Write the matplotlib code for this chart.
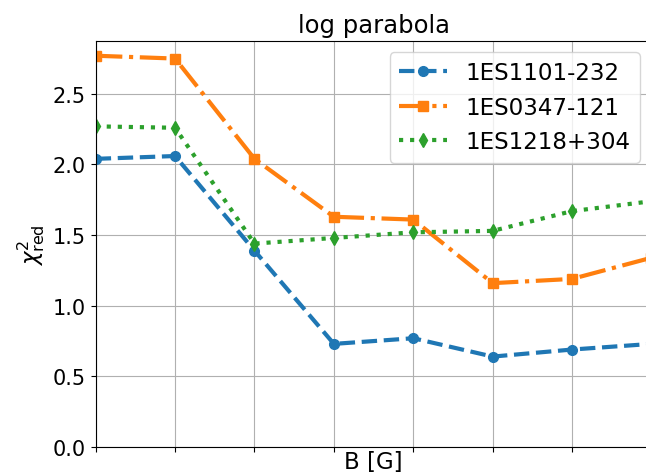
import numpy as np
import matplotlib
matplotlib.use("Agg")
import matplotlib.pyplot as plt

# reduced chi^2 of the log-parabola fit for each magnetic field value
b_index = np.arange(8)
chi2_1101 = [2.04, 2.06, 1.39, 0.73, 0.77, 0.64, 0.69, 0.73]
chi2_0347 = [2.77, 2.75, 2.04, 1.63, 1.61, 1.16, 1.19, 1.34]
chi2_1218 = [2.27, 2.26, 1.44, 1.48, 1.52, 1.53, 1.67, 1.74]

sources = ["1ES1101-232", "1ES0347-121", "1ES1218+304"]
styles = [("--", "o"), ("-.", "s"), (":", "d")]
colors = ["tab:blue", "tab:orange", "tab:green"]

fig = plt.figure(figsize=(6.46, 4.77), dpi=100)
ax = fig.add_axes([0.1481, 0.0608, 0.8604, 0.8518])

for y, name, (ls, mk), c in zip([chi2_1101, chi2_0347, chi2_1218], sources, styles, colors):
    ax.plot(b_index, y, linestyle=ls, marker=mk, color=c, linewidth=3,
            markersize=7, label=name)

ax.set_xlim(0, 7)
ax.set_ylim(bottom=0)
ax.set_xticks(b_index)
ax.set_xticklabels([])
ax.set_yticks([0.0, 0.5, 1.0, 1.5, 2.0, 2.5])
ax.tick_params(axis="y", labelsize=15)
ax.grid(True)

ax.set_title("log parabola", fontsize=17.5)
ax.set_xlabel("B [G]", fontsize=16.5, labelpad=-5)
ax.set_ylabel(r"$\chi^2_{\rm red}$", fontsize=16.5)
ax.legend(loc="upper right", fontsize=16.6, handlelength=2.1)

fig.savefig("out.png", dpi=100)
